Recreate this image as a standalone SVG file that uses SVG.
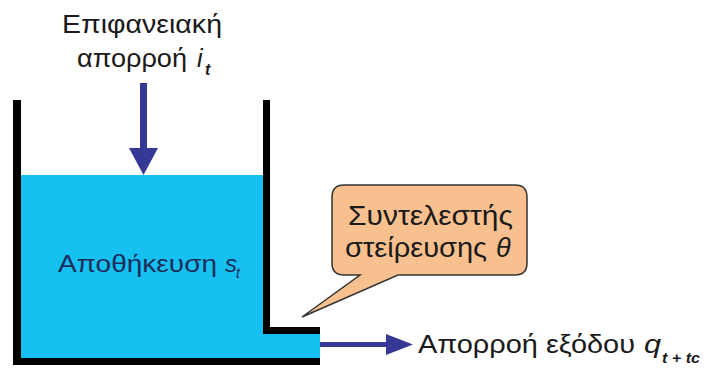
<svg xmlns="http://www.w3.org/2000/svg" width="704" height="372" viewBox="0 0 704 372">
<style>
.t{font-family:"Liberation Sans",Arial,sans-serif;fill:#1a1a1a}
.it{font-style:italic}
.sub{font-style:italic;font-weight:bold}
.wall{fill:#000}
.arrow{fill:#363896}
</style>
<rect width="704" height="372" fill="#fff"/>
<g id="tank">
<rect x="21" y="175" width="242" height="184" fill="#16C0F0"/>
<rect x="263" y="333" width="57" height="26" fill="#16C0F0"/>
<path class="wall" d="M13 100H21V358H320V365H13Z"/>
<path class="wall" d="M263 100H270V327H320V334H263Z"/>
<text class="t" x="58" y="272" font-size="24" textLength="159" lengthAdjust="spacingAndGlyphs" style="fill:#1c2d5a">Αποθήκευση</text>
<text class="t it" x="225" y="272" font-size="24" textLength="12" lengthAdjust="spacingAndGlyphs" style="fill:#1c2d5a">s</text>
<text class="t it" x="236" y="278" font-size="14" style="fill:#1c2d5a">t</text>
</g>
<g id="inflow">
<text class="t" x="62" y="33" font-size="25" textLength="160" lengthAdjust="spacingAndGlyphs">Επιφανειακή</text>
<text class="t" x="77" y="67" font-size="25" textLength="110" lengthAdjust="spacingAndGlyphs">απορροή</text>
<text class="t it" x="197" y="67" font-size="25">i</text>
<text class="t sub" x="205" y="75" font-size="16">t</text>
</g>
<g id="callout">
<path d="M344 185H515Q527 185 527 197V263Q527 275 515 275H398L302 317L360 275H344Q332 275 332 263V197Q332 185 344 185Z" fill="#F9C08F" stroke="#333" stroke-width="1.5"/>
<text class="t" x="348" y="225" font-size="27" textLength="165" lengthAdjust="spacingAndGlyphs">Συντελεστής</text>
<text class="t" x="345" y="257" font-size="27" textLength="142" lengthAdjust="spacingAndGlyphs">στείρευσης</text>
<text class="t it" x="496" y="257" font-size="27">θ</text>
</g>
<g id="outflow">
<text class="t" x="418" y="353" font-size="25" textLength="217" lengthAdjust="spacingAndGlyphs">Απορροή εξόδου</text>
<text class="t it" x="644" y="353" font-size="25" textLength="17" lengthAdjust="spacingAndGlyphs">q</text>
<text class="t sub" x="662" y="363" font-size="15" textLength="38" lengthAdjust="spacingAndGlyphs">t + tc</text>
</g>
<g id="connectors">
<rect class="arrow" x="140" y="83" width="7" height="67"/>
<path class="arrow" d="M129 148H158L143.5 175Z"/>
<rect class="arrow" x="320" y="342" width="68" height="5"/>
<path class="arrow" d="M386 334L413 344.5L386 355Z"/>
</g>
</svg>
